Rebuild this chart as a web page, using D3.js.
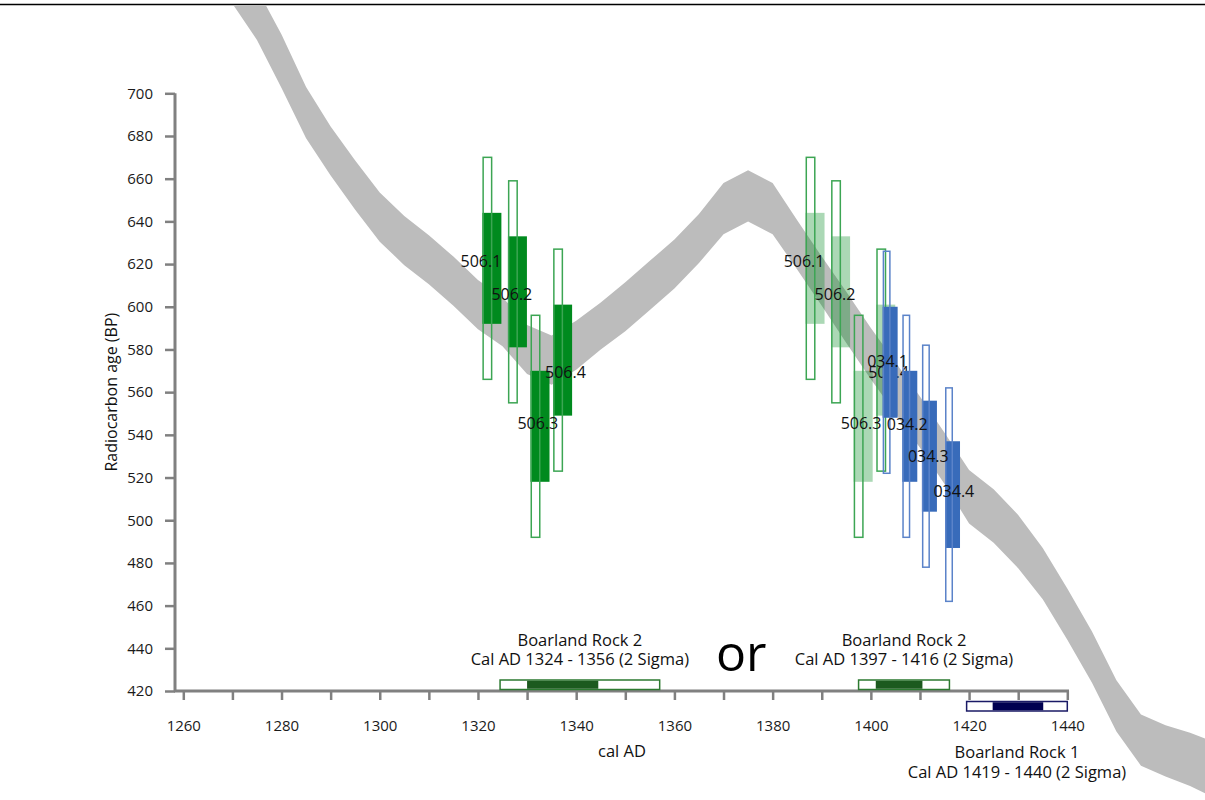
<!DOCTYPE html>
<html>
<head>
<meta charset="UTF-8">
<title>Boarland Rock wiggle match</title>
<script src="https://d3js.org/d3.v7.min.js"></script>
<style type="text/css">
    body { margin: 0; background: #fff; }
    svg { display: block; font-family: "Open Sans", sans-serif; }
    .axis path { display: none; }
    .axis line { stroke: #808080; stroke-width: 2.5; }
    .axis text { font-size: 15px; fill: #1a1a1a; font-family: "Open Sans", sans-serif; }
    .label { font-size: 16px; fill: #111; }
    .title { font-size: 16.5px; fill: #111; text-anchor: middle; }
</style>
</head>
<body>
<script type="text/javascript">
// calibration curve (cal AD vs radiocarbon age BP, +/- error)
const curveYears = [1260, 1265, 1270, 1275, 1280, 1285, 1290, 1295, 1300, 1305, 1310, 1315, 1320, 1325, 1330,
    1335, 1340, 1345, 1350, 1355, 1360, 1365, 1370, 1375, 1380, 1385, 1390, 1395, 1400, 1405, 1410, 1415,
    1420, 1425, 1430, 1435, 1440, 1445, 1450, 1455, 1460, 1465, 1470];
const curveAge = [785, 770, 754, 737, 715, 691, 673, 657, 642, 631, 622, 612, 601, 593, 580,
    575, 582, 591, 600, 610, 620, 632, 646, 652, 646, 629, 612, 595, 578, 562, 546, 529,
    511, 502, 490, 475, 456, 436, 413, 397, 392, 388, 383];
const curveErr = [12, 12, 12, 12, 12.5, 12, 11.5, 11.5, 11.5, 11.5, 11.5, 11.5, 11.5, 11.5, 11.5,
    11.5, 11.5, 11, 11.5, 11.5, 11.5, 11.5, 12, 12, 12, 11.5, 11.5, 12, 12, 12, 12, 12,
    12.5, 12.5, 12.5, 12, 12, 12, 12, 12, 12, 12.5, 13];

// sample 506 (green), measured ages and 1 sigma
const greenNames = ['506.1', '506.2', '506.3', '506.4'];
const greenYears = [1320.9, 1326.1, 1330.7, 1335.3];
const greenAges = [618, 607, 544, 575];
const greenSigma = [26, 26, 26, 26];
const greenLabelYears = [1320.6, 1326.9, 1332.2, 1337.8];
const greenLabelAges = [618.5, 603.2, 542.7, 566.5];
const greenShift = 65.8;

// sample 034 (blue)
const blueNames = ['034.1', '034.2', '034.3', '034.4'];
const blueYears = [1402.4, 1406.4, 1410.4, 1415.1];
const blueAges = [574, 544, 530, 512];
const blueSigma = [26, 26, 26, 25];
const blueLabelYears = [1403.4, 1407.4, 1411.7, 1416.9];
const blueLabelAges = [572, 542.3, 527.5, 511.1];

// calibrated ranges
const rangeNames = ['Boarland Rock 2', 'Boarland Rock 2', 'Boarland Rock 1'];
const rangeTexts = ['Cal AD 1324 - 1356 (2 Sigma)', 'Cal AD 1397 - 1416 (2 Sigma)', 'Cal AD 1419 - 1440 (2 Sigma)'];
const range2Sigma = [[1324.5, 1357], [1397.5, 1416], [1419.5, 1440]];
const range1Sigma = [[1330, 1344.5], [1401, 1410.5], [1424.8, 1435.1]];

const xTicks = d3.range(1260, 1441, 10);
const yTicks = d3.range(420, 701, 20);

const width = 1205, height = 800;
const svg = d3.select('body').append('svg')
    .attr('width', width)
    .attr('height', height);

const x = d3.scaleLinear().domain([1260, 1440]).range([183.3, 1067.3]);
const y = d3.scaleLinear().domain([420, 700]).range([691, 93.3]);

svg.append('clipPath').attr('id', 'frame')
    .append('rect').attr('x', 0).attr('y', 5).attr('width', width).attr('height', height);

// frame line on top
svg.append('line').attr('x1', 0).attr('x2', width).attr('y1', 4.5).attr('y2', 4.5)
    .attr('stroke', '#000').attr('stroke-width', 1.5);

// curve band
const curve = curveYears.map((yr, i) => ({ yr: yr, age: curveAge[i], err: curveErr[i] }));
const area = d3.area()
    .x(d => x(d.yr))
    .y0(d => y(d.age - d.err))
    .y1(d => y(d.age + d.err));
svg.append('path')
    .datum(curve)
    .attr('clip-path', 'url(#frame)')
    .attr('fill', '#bcbcbc')
    .attr('d', area);

// axes
const yAxis = d3.axisLeft(y).tickValues(yTicks).tickSize(10).tickPadding(12);
svg.append('g').attr('class', 'axis')
    .attr('transform', 'translate(175,0)')
    .call(yAxis);
const xAxis = d3.axisBottom(x).tickValues(xTicks).tickSize(9).tickPadding(20)
    .tickFormat(d => d % 20 === 0 ? d : '');
svg.append('g').attr('class', 'axis')
    .attr('transform', 'translate(0,691)')
    .call(xAxis);
svg.append('line').attr('x1', 175).attr('x2', 175).attr('y1', y(700)).attr('y2', 692)
    .attr('stroke', '#808080').attr('stroke-width', 3);
svg.append('line').attr('x1', 174).attr('x2', 1069).attr('y1', 691).attr('y2', 691)
    .attr('stroke', '#808080').attr('stroke-width', 3);

svg.append('text')
    .attr('transform', 'rotate(-90)')
    .attr('x', -(y(700) + 691) / 2)
    .attr('y', 117)
    .attr('text-anchor', 'middle')
    .style('font-size', '16px')
    .attr('fill', '#111')
    .text('Radiocarbon age (BP)');

svg.append('text')
    .attr('class', 'title')
    .attr('x', (175 + 1069) / 2)
    .attr('y', 757)
    .text('cal AD');

// boxes
const greenFill = '#008a1e', greenLine = '#3ca553';
const blueFill = '#386bba', blueLine = '#5b83c9';

function drawBoxes(years, ages, sigma, fill, line, opacity, wOuter, wInner, shift) {
    const g = svg.append('g');
    years.forEach((yr, i) => {
        const x0 = x(yr + shift);
        g.append('rect')
            .attr('x', x0).attr('width', wInner)
            .attr('y', y(ages[i] + sigma[i]))
            .attr('height', y(ages[i] - sigma[i]) - y(ages[i] + sigma[i]))
            .attr('fill', fill).attr('fill-opacity', opacity);
        g.append('rect')
            .attr('x', x0 + 0.75).attr('width', wOuter)
            .attr('y', y(ages[i] + 2 * sigma[i]))
            .attr('height', y(ages[i] - 2 * sigma[i]) - y(ages[i] + 2 * sigma[i]))
            .attr('fill', 'none').attr('stroke', line).attr('stroke-width', 1.5);
    });
}

function drawLabels(names, lx, la, shift) {
    svg.append('g').selectAll('text')
        .data(names)
        .join('text')
        .attr('class', 'label')
        .attr('text-anchor', 'middle')
        .attr('x', (d, i) => x(lx[i] + shift))
        .attr('y', (d, i) => y(la[i]))
        .text(d => d);
}

drawBoxes(greenYears, greenAges, greenSigma, greenFill, greenLine, 1, 8.5, 19, 0);
drawLabels(greenNames, greenLabelYears, greenLabelAges, 0);

drawBoxes(greenYears, greenAges, greenSigma, greenFill, greenLine, 0.33, 8.5, 19, greenShift);
drawLabels(greenNames, greenLabelYears, greenLabelAges, greenShift);

drawBoxes(blueYears, blueAges, blueSigma, blueFill, blueLine, 1, 6.5, 15, 0);
drawLabels(blueNames, blueLabelYears, blueLabelAges, 0);

// calibrated range bars
const barStroke = ['#2d7a30', '#2d7a30', '#1a1a66'];
const barFill = ['#1c5a1e', '#1c5a1e', '#000050'];
const barTop = [680, 680, 701.5];
range2Sigma.forEach((r, i) => {
    svg.append('rect')
        .attr('x', x(r[0])).attr('width', x(r[1]) - x(r[0]))
        .attr('y', barTop[i]).attr('height', 9.5)
        .attr('fill', '#fff').attr('stroke', barStroke[i]).attr('stroke-width', 1.5);
    svg.append('rect')
        .attr('x', x(range1Sigma[i][0])).attr('width', x(range1Sigma[i][1]) - x(range1Sigma[i][0]))
        .attr('y', barTop[i] + 0.75).attr('height', 8)
        .attr('fill', barFill[i]);
    const cx = x((r[0] + r[1]) / 2);
    const above = i < 2;
    svg.append('text').attr('class', 'title')
        .attr('x', cx).attr('y', above ? barTop[i] - 34 : barTop[i] + 56)
        .text(rangeNames[i]);
    svg.append('text').attr('class', 'title')
        .attr('x', cx).attr('y', above ? barTop[i] - 15 : barTop[i] + 76)
        .text(rangeTexts[i]);
});

svg.append('text')
    .attr('x', x(1373.6))
    .attr('y', y(429.3))
    .attr('text-anchor', 'middle')
    .style('font-size', '50px')
    .attr('fill', '#000')
    .text('or');
</script>
</body>
</html>
